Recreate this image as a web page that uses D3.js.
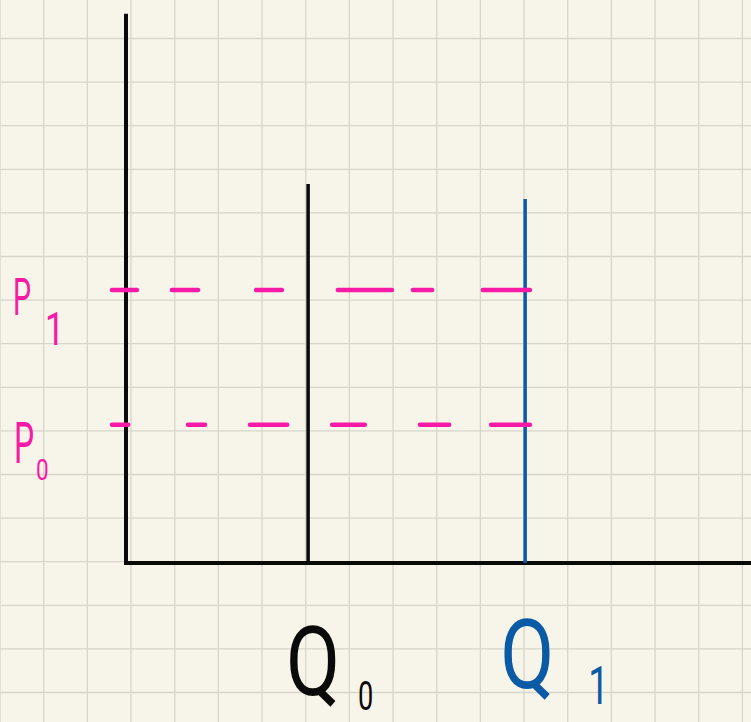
<html>
<head>
  <style>
    body { margin: 0; background: #f7f5e9; }
    svg { display: block; }
    .lab { font-family: Roboto, Lato, "Open Sans", sans-serif; font-weight: 400; }
  </style>
  <script src="https://cdn.jsdelivr.net/npm/d3@7"></script>
</head>
<body>
  <svg></svg>
  <script>
    // values, in grid squares
    var qNames = ["Q0", "Q1"]
    var qValues = [4.17, 9.14]
    var qTops = [8.69, 8.35]
    var qColors = ["#0a0a0a", "#0b5aa6"]

    var pNames = ["P1", "P0"]
    var pValues = [6.26, 3.17]

    // hand drawn dashes along each price line (start, end in quantity units)
    var p1Dashes = [[-0.32, 0.25], [1.05, 1.65], [2.98, 3.57], [4.85, 6.09], [6.57, 7.01], [8.17, 9.25]]
    var p0Dashes = [[-0.32, 0.05], [1.42, 1.81], [2.84, 3.69], [4.72, 5.47], [6.73, 7.40], [8.36, 9.25]]

    var w = 751
    var h = 722
    var cell = 43.67

    var x = d3.scaleLinear().domain([0, 1]).range([126, 126 + cell])
    var y = d3.scaleLinear().domain([0, 1]).range([563, 563 - 43.6])

    var svg = d3.select("svg").attr("width", w).attr("height", h)

    svg.append("rect").attr("width", w).attr("height", h).attr("fill", "#f7f5e9")

    // grid paper
    var grid = svg.append("g").attr("stroke", "#d6d6cb").attr("stroke-width", 1.3)
    grid.selectAll(".vg")
      .data(d3.range(-3, 15).map(function(k) { return k + 0.115 }))
      .enter().append("line")
      .attr("x1", function(d) { return x(d) })
      .attr("x2", function(d) { return x(d) })
      .attr("y1", 0).attr("y2", h)
    grid.selectAll(".hg")
      .data(d3.range(-4, 14).map(function(k) { return k + 0.03 }))
      .enter().append("line")
      .attr("y1", function(d) { return y(d) })
      .attr("y2", function(d) { return y(d) })
      .attr("x1", 0).attr("x2", w)

    // axes
    svg.append("path")
      .attr("d", "M" + x(0) + "," + y(12.6) + "V" + y(0) + "H" + w)
      .attr("fill", "none").attr("stroke", "#0a0a0a").attr("stroke-width", 4)

    // quantity lines
    svg.selectAll(".qline")
      .data(qValues)
      .enter().append("line")
      .attr("x1", function(d) { return x(d) })
      .attr("x2", function(d) { return x(d) })
      .attr("y1", function(d, i) { return y(qTops[i]) })
      .attr("y2", y(0))
      .attr("stroke", function(d, i) { return qColors[i] })
      .attr("stroke-width", 3.5)

    // dashed price lines
    var dashes = [p1Dashes, p0Dashes]
    pValues.forEach(function(p, i) {
      svg.append("g").selectAll("line")
        .data(dashes[i])
        .enter().append("line")
        .attr("x1", function(d) { return x(d[0]) })
        .attr("x2", function(d) { return x(d[1]) })
        .attr("y1", y(p))
        .attr("y2", y(p))
        .attr("stroke", "#f71aa7")
        .attr("stroke-width", 4.5)
        .attr("stroke-linecap", "round")
    })

    // price labels
    var pOff = [[13, 25, 45, 55], [14, 38, 36, 55]]
    var pSize = [[52, 46], [58, 30]]
    pNames.forEach(function(name, i) {
      var py = y(pValues[i])
      svg.append("text").attr("class", "lab")
        .attr("transform", "translate(" + pOff[i][0] + "," + (py + pOff[i][1]) + ") scale(0.55,1)")
        .attr("font-size", pSize[i][0]).attr("fill", "#f71aa7")
        .text(name[0])
      svg.append("text").attr("class", "lab")
        .attr("transform", "translate(" + pOff[i][2] + "," + (py + pOff[i][3]) + ") scale(0.75,1)")
        .attr("font-size", pSize[i][1]).attr("fill", "#f71aa7")
        .text(name.slice(1))
    })

    // quantity labels
    var qOff = [[-22, 695, 50, 710], [-25, 688, 63, 704]]
    var qSize = [[96, 40], [96, 54]]
    qNames.forEach(function(name, i) {
      var qx = x(qValues[i])
      svg.append("text").attr("class", "lab")
        .attr("transform", "translate(" + (qx + qOff[i][0]) + "," + qOff[i][1] + ") scale(0.82,1)")
        .attr("font-size", qSize[i][0]).attr("fill", qColors[i])
        .text(name[0])
      svg.append("text").attr("class", "lab")
        .attr("transform", "translate(" + (qx + qOff[i][2]) + "," + qOff[i][3] + ") scale(0.68,1)")
        .attr("font-size", qSize[i][1]).attr("fill", qColors[i])
        .text(name.slice(1))
    })
  </script>
</body>
</html>
